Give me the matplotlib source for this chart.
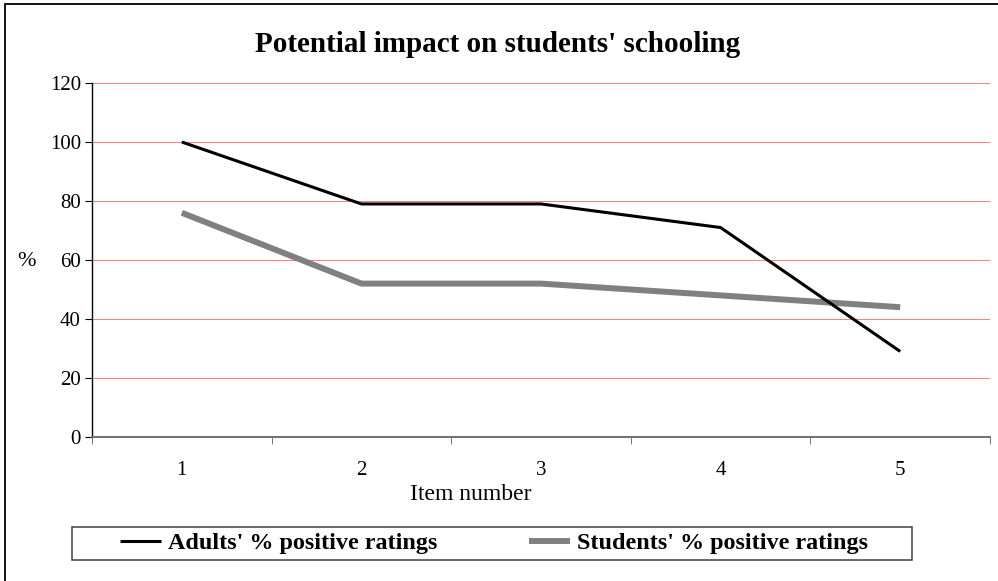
import matplotlib
matplotlib.use("Agg")
import matplotlib.pyplot as plt
import numpy as np
from matplotlib.patches import Rectangle

plt.rcParams["font.family"] = ["Liberation Serif", "DejaVu Serif"]

items = ["1", "2", "3", "4", "5"]
adults = [100, 79, 79, 71, 29]
students = [76, 52, 52, 48, 44]
y_ticks = [0, 20, 40, 60, 80, 100, 120]

W, H = 998, 581
fig = plt.figure(figsize=(W / 100, H / 100), dpi=100)
ax = fig.add_axes([92 / W, 1 - 437 / H, (990 - 92) / W, (437 - 83) / H])

x = np.arange(1, len(items) + 1)
ax.plot(x, adults, color="black", linewidth=2.2, solid_capstyle="butt",
        label="Adults' % positive ratings", zorder=4)
ax.plot(x, students, color="#808080", linewidth=4.3, solid_capstyle="butt",
        label="Students' % positive ratings", zorder=3)

ax.set_xlim(0.5, len(items) + 0.5)
ax.set_ylim(0, 120)
ax.set_yticks(y_ticks)
ax.set_xticks(x)
ax.set_xticklabels(items)
ax.set_xticks(np.arange(0.5, len(items) + 1), minor=True)
ax.tick_params(axis="x", which="major", length=0, labelsize=15, pad=17)
ax.tick_params(axis="x", which="minor", length=5, direction="out", color="#606060")
ax.tick_params(axis="y", length=5, direction="out", labelsize=15, pad=3)
ax.yaxis.grid(True, color="#ff8080", linewidth=0.75)
ax.set_axisbelow(True)
for side in ("top", "right"):
    ax.spines[side].set_visible(False)
ax.spines["bottom"].set_color("#707070")
ax.spines["bottom"].set_linewidth(1.4)
ax.spines["left"].set_linewidth(1.0)

fig.text(471 / W, 1 - 494 / H, "Item number", fontsize=17, ha="center", va="center")
fig.text(26 / W, 1 - 262 / H, "%", fontsize=16, ha="center", va="center")
fig.text(0.499, 1 - 44 / H, "Potential impact on students' schooling",
         fontsize=21, fontweight="bold", ha="center", va="center")

fig.legend(loc="center", bbox_to_anchor=(494 / W, 1 - 543 / H), ncol=2,
           frameon=False, prop={"weight": "bold", "size": 17.4},
           handlelength=1.7, columnspacing=3.8, handletextpad=0.3)
# legend frame
fig.patches.append(Rectangle((72 / W, 1 - 560 / H), 840 / W, 33 / H,
                             transform=fig.transFigure, fill=False,
                             edgecolor="#404040", linewidth=1.1))

# outer chart border
fig.patches.append(Rectangle((5 / W, -0.05), 1.1, 1.05 - 4.5 / H,
                             transform=fig.transFigure, fill=False,
                             edgecolor="black", linewidth=1.3))

fig.savefig("out.png", dpi=100, facecolor="white")
